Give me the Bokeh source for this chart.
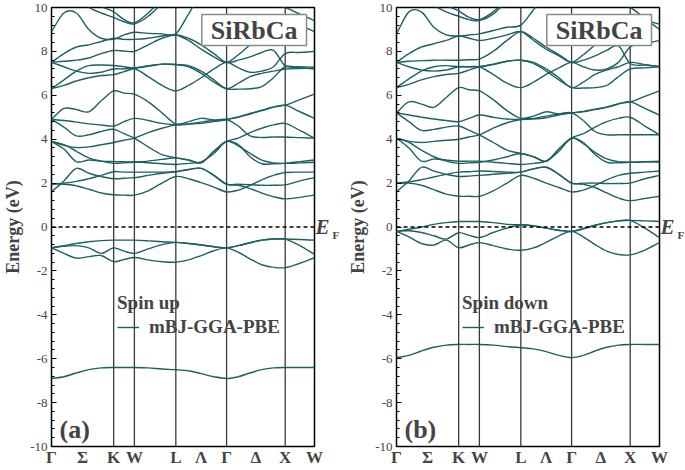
import numpy as np
from bokeh.plotting import figure
from bokeh.models import (ColumnDataSource, Range1d, FixedTicker, SingleIntervalTicker,
                          Label, Legend, LegendItem, Span, LinearAxis)
from bokeh.layouts import row
from bokeh.embed import file_html
from bokeh.resources import INLINE

# ---------------- k-path (FCC, units of 2*pi/a) ----------------
hs_labels = ["Γ", "K", "W", "L", "Γ", "X", "W"]
seg_lengths = [1.0607, 0.3536, 0.7071, 0.8660, 1.0, 0.5]
seg_fracs = [[0.2, 0.4, 0.6, 0.8], [0.5], [1 / 3, 2 / 3], [0.25, 0.5, 0.75],
             [0.2, 0.4, 0.6, 0.8], [0.5]]
mid_labels = ["Σ", "Λ", "Δ"]
mid_segments = [0, 3, 4]
y_ticks = [-10, -8, -6, -4, -2, 0, 2, 4, 6, 8, 10]

# ---------------- (a) spin up : energies (eV) at the k samples ----------------
up_v1 = [-6.9, -6.82, -6.65, -6.5, -6.42, -6.4, -6.4, -6.4, -6.42, -6.47, -6.5, -6.55, -6.68, -6.82, -6.9, -6.82, -6.65, -6.5, -6.42, -6.4, -6.4, -6.4]
up_v2 = [-0.95, -0.85, -0.75, -0.67, -0.62, -0.6, -0.6, -0.6, -0.63, -0.67, -0.7, -0.75, -0.82, -0.9, -0.95, -0.85, -0.72, -0.6, -0.55, -0.55, -0.57, -0.6]
up_v3 = [-0.95, -0.88, -0.85, -0.95, -1.2, -0.95, -1.1, -1.2, -1.0, -0.8, -0.7, -0.75, -0.82, -0.9, -0.95, -0.85, -0.72, -0.6, -0.55, -0.55, -0.85, -1.25]
up_v4 = [-0.95, -1.2, -1.42, -1.35, -1.3, -1.58, -1.48, -1.39, -1.5, -1.58, -1.6, -1.5, -1.3, -1.08, -0.95, -1.15, -1.45, -1.72, -1.84, -1.85, -1.65, -1.4]
up_c1 = [1.6, 2.1, 2.67, 2.45, 2.3, 2.2, 2.22, 2.25, 2.35, 2.45, 2.52, 2.62, 2.67, 2.35, 1.95, 1.95, 1.93, 1.9, 1.9, 1.92, 2.1, 2.25]
up_c2 = [1.95, 2.0, 2.08, 2.2, 2.35, 2.52, 2.5, 2.5, 2.5, 2.5, 2.52, 2.62, 2.67, 2.35, 1.95, 1.9, 1.75, 1.55, 1.38, 1.28, 1.35, 1.45]
up_c3 = [1.95, 1.95, 1.88, 1.72, 1.55, 1.47, 1.45, 1.45, 1.65, 2.0, 2.3, 2.2, 2.02, 1.82, 1.6, 1.68, 1.9, 2.15, 2.35, 2.48, 2.5, 2.5]
up_c4 = [3.9, 3.55, 2.98, 3.05, 3.0, 2.98, 2.97, 2.96, 2.93, 2.88, 2.85, 2.9, 2.97, 3.35, 3.9, 3.7, 3.35, 3.05, 2.92, 2.9, 2.92, 2.95]
up_c5 = [3.9, 3.75, 3.45, 3.15, 3.0, 2.9, 2.92, 2.95, 3.0, 3.08, 3.15, 3.05, 2.93, 3.45, 3.9, 3.75, 3.2, 2.88, 2.88, 2.9, 2.98, 3.05]
up_c6 = [4.9, 4.55, 4.15, 4.2, 4.35, 4.45, 4.25, 4.05, 3.65, 3.3, 3.15, 3.05, 2.93, 3.45, 3.9, 4.05, 4.3, 4.5, 4.65, 4.72, 4.4, 4.05]
up_c7 = [3.9, 3.72, 3.62, 3.65, 3.75, 3.85, 3.95, 4.05, 4.3, 4.5, 4.65, 4.7, 4.78, 4.85, 4.9, 4.6, 4.15, 4.08, 4.1, 4.1, 4.07, 4.05]
up_c8 = [4.9, 4.85, 4.78, 4.7, 4.65, 4.6, 4.8, 4.95, 4.85, 4.72, 4.65, 4.68, 4.72, 4.8, 4.9, 5.0, 5.15, 5.3, 5.45, 5.55, 5.25, 4.95]
up_c9 = [4.9, 5.4, 5.35, 5.25, 5.75, 6.2, 6.1, 6.05, 5.7, 5.2, 4.7, 4.8, 4.95, 4.88, 4.9, 5.02, 5.17, 5.32, 5.47, 5.55, 5.8, 6.05]
up_c10 = [6.3, 6.45, 6.65, 6.8, 6.9, 6.94, 7.08, 7.22, 7.32, 7.42, 7.4, 7.3, 7.0, 6.6, 6.3, 6.28, 6.3, 6.4, 6.8, 7.3, 7.25, 7.2]
up_c11 = [6.3, 6.7, 7.1, 7.35, 7.38, 7.36, 7.3, 7.25, 7.35, 7.42, 7.4, 7.35, 7.1, 6.7, 6.3, 6.55, 6.85, 7.0, 7.1, 7.2, 7.22, 7.25]
up_c12 = [7.5, 7.3, 7.1, 7.0, 7.05, 7.2, 7.2, 7.22, 6.85, 6.45, 6.2, 6.45, 6.8, 7.2, 7.5, 7.25, 7.05, 7.1, 7.3, 7.9, 7.95, 8.0]
up_c13 = [7.5, 7.55, 7.6, 7.7, 7.9, 8.04, 8.02, 8.0, 8.3, 8.6, 8.75, 8.6, 8.3, 7.9, 7.5, 7.6, 7.75, 7.95, 8.05, 7.35, 7.3, 7.28]
up_c14 = [7.5, 7.9, 8.2, 8.3, 8.45, 8.6, 8.55, 8.55, 8.6, 8.7, 8.75, 8.5, 8.1, 7.75, 7.5, 7.85, 8.3, 8.75, 9.2, 9.5, 9.2, 8.9]
up_c15 = [8.9, 9.75, 9.75, 9.0, 8.6, 8.55, 8.75, 8.87, 8.82, 8.8, 8.8, 9.7, 10.6, 10.8, 10.9, 10.8, 10.6, 10.3, 10.1, 10.0, 9.7, 9.4]
up_c16 = [11.0, 10.8, 10.4, 10.0, 9.75, 9.55, 9.35, 9.25, 9.6, 10.2, 10.8, 11.0, 11.0, 11.0, 11.0, 11.0, 11.0, 11.0, 11.0, 11.0, 11.0, 11.0]
up_c17 = [11.0, 11.0, 10.8, 10.4, 10.05, 9.8, 9.45, 9.3, 9.75, 10.4, 11.0, 11.0, 11.0, 11.0, 11.0, 11.0, 11.0, 11.0, 11.0, 11.0, 11.0, 11.0]

# ---------------- (b) spin down ----------------
dn_v1 = [-5.95, -5.85, -5.65, -5.48, -5.38, -5.35, -5.35, -5.35, -5.38, -5.45, -5.5, -5.55, -5.68, -5.85, -5.95, -5.85, -5.65, -5.48, -5.38, -5.35, -5.35, -5.35]
dn_v2 = [-0.2, -0.1, 0.0, 0.12, 0.2, 0.25, 0.25, 0.25, 0.2, 0.12, 0.1, 0.05, -0.05, -0.15, -0.2, -0.08, 0.08, 0.2, 0.28, 0.3, 0.28, 0.25]
dn_v3 = [-0.2, -0.17, -0.25, -0.4, -0.55, -0.26, -0.38, -0.48, -0.25, -0.05, 0.1, 0.05, -0.05, -0.15, -0.2, -0.08, 0.08, 0.2, 0.28, 0.3, -0.05, -0.48]
dn_v4 = [-0.2, -0.45, -0.75, -0.82, -0.6, -0.94, -0.82, -0.71, -0.85, -1.0, -1.06, -0.95, -0.7, -0.4, -0.2, -0.45, -0.8, -1.1, -1.25, -1.27, -1.05, -0.71]
dn_c1 = [1.6, 2.1, 2.72, 2.55, 2.4, 2.3, 2.32, 2.35, 2.4, 2.45, 2.5, 2.65, 2.72, 2.4, 2.0, 2.0, 2.0, 1.98, 1.98, 2.0, 2.2, 2.35]
dn_c2 = [2.0, 2.05, 2.15, 2.28, 2.4, 2.5, 2.52, 2.55, 2.53, 2.5, 2.5, 2.65, 2.72, 2.4, 2.0, 1.95, 1.8, 1.55, 1.32, 1.2, 1.3, 1.4]
dn_c3 = [2.0, 2.0, 1.9, 1.7, 1.5, 1.4, 1.4, 1.4, 1.65, 2.0, 2.35, 2.22, 2.0, 1.8, 1.6, 1.68, 1.9, 2.15, 2.35, 2.45, 2.5, 2.55]
dn_c4 = [4.05, 3.6, 3.0, 3.1, 3.05, 3.0, 3.0, 3.0, 2.95, 2.9, 2.85, 2.9, 3.0, 3.45, 4.05, 3.8, 3.4, 3.1, 2.97, 2.95, 2.97, 3.0]
dn_c5 = [4.05, 3.85, 3.5, 3.2, 3.0, 2.9, 2.92, 2.95, 3.05, 3.2, 3.35, 3.2, 3.0, 3.55, 4.05, 3.85, 3.3, 2.95, 2.93, 2.95, 2.97, 2.95]
dn_c6 = [5.2, 4.8, 4.4, 4.45, 4.55, 4.6, 4.4, 4.2, 3.85, 3.5, 3.35, 3.2, 3.0, 3.55, 4.05, 4.25, 4.55, 4.8, 4.95, 5.0, 4.6, 4.2]
dn_c7 = [4.05, 3.9, 3.85, 3.9, 3.95, 4.0, 4.1, 4.2, 4.5, 4.75, 4.9, 4.95, 5.05, 5.15, 5.2, 4.85, 4.35, 4.2, 4.2, 4.2, 4.2, 4.2]
dn_c8 = [5.2, 5.1, 5.0, 4.92, 4.85, 4.8, 4.95, 5.1, 5.0, 4.92, 4.9, 4.92, 4.98, 5.1, 5.2, 5.25, 5.35, 5.45, 5.6, 5.7, 5.4, 5.1]
dn_c9 = [5.2, 5.7, 5.6, 5.45, 5.9, 6.35, 6.25, 6.2, 5.8, 5.3, 4.95, 5.05, 5.25, 5.15, 5.2, 5.27, 5.37, 5.47, 5.62, 5.7, 5.95, 6.2]
dn_c10 = [6.35, 6.5, 6.7, 6.85, 6.95, 7.0, 7.15, 7.3, 7.4, 7.55, 7.6, 7.45, 7.1, 6.7, 6.35, 6.33, 6.35, 6.45, 6.85, 7.2, 7.25, 7.3]
dn_c11 = [6.35, 6.75, 7.1, 7.3, 7.35, 7.3, 7.3, 7.3, 7.42, 7.55, 7.6, 7.5, 7.2, 6.8, 6.35, 6.6, 6.95, 7.15, 7.3, 7.5, 7.4, 7.3]
dn_c12 = [7.5, 7.3, 7.15, 7.1, 7.15, 7.3, 7.3, 7.3, 6.95, 6.55, 6.35, 6.6, 6.95, 7.25, 7.5, 7.3, 7.15, 7.2, 7.5, 8.2, 8.35, 8.5]
dn_c13 = [7.5, 7.55, 7.58, 7.6, 7.6, 7.6, 7.62, 7.65, 8.0, 8.5, 8.9, 8.6, 8.2, 7.85, 7.5, 7.6, 7.8, 8.05, 8.25, 7.45, 7.38, 7.32]
dn_c14 = [7.5, 7.9, 8.2, 8.35, 8.5, 8.7, 8.6, 8.5, 8.6, 8.75, 8.9, 8.5, 8.1, 7.8, 7.5, 7.85, 8.3, 8.75, 9.2, 9.5, 9.4, 9.25]
dn_c15 = [8.8, 9.8, 9.8, 9.1, 8.75, 8.7, 8.75, 8.8, 8.95, 9.1, 9.2, 9.9, 10.6, 10.8, 10.9, 10.8, 10.6, 10.3, 10.1, 10.0, 9.5, 9.0]
dn_c16 = [11.0, 10.8, 10.5, 10.1, 9.8, 9.6, 9.45, 9.4, 9.7, 10.3, 10.9, 11.0, 11.0, 11.0, 11.0, 11.0, 11.0, 11.0, 11.0, 11.0, 11.0, 11.0]
dn_c17 = [11.0, 11.0, 10.9, 10.5, 10.1, 9.85, 9.55, 9.45, 9.8, 10.4, 11.0, 11.0, 11.0, 11.0, 11.0, 11.0, 11.0, 11.0, 11.0, 11.0, 11.0, 11.0]

up_bands = [up_v1, up_v2, up_v3, up_v4, up_c1, up_c2, up_c3, up_c4, up_c5, up_c6, up_c7,
            up_c8, up_c9, up_c10, up_c11, up_c12, up_c13, up_c14, up_c15, up_c16, up_c17]
dn_bands = [dn_v1, dn_v2, dn_v3, dn_v4, dn_c1, dn_c2, dn_c3, dn_c4, dn_c5, dn_c6, dn_c7,
            dn_c8, dn_c9, dn_c10, dn_c11, dn_c12, dn_c13, dn_c14, dn_c15, dn_c16, dn_c17]

# ---------------- build k coordinates ----------------
hs_k = [0.0]
kgrid = [0.0]
for L, fr in zip(seg_lengths, seg_fracs):
    start = hs_k[-1]
    for f in fr:
        kgrid.append(start + f * L)
    hs_k.append(start + L)
    kgrid.append(start + L)
hs_k = [round(v, 6) for v in hs_k]
kgrid = np.array(kgrid)
k_total = hs_k[-1]
mid_k = [round((hs_k[s] + hs_k[s + 1]) / 2, 6) for s in mid_segments]

BAND_COLOR = "#1c5f5f"
FONT = "Liberation Serif"


def smooth_segments(bands):
    """Cubic (Hermite) pieces through the sampled energies, as Bezier glyph data."""
    cols = {c: [] for c in ("x0", "y0", "x1", "y1", "cx0", "cy0", "cx1", "cy1")}
    k = kgrid
    h = np.diff(k)
    for e in bands:
        e = np.asarray(e, float)
        m = np.empty_like(e)
        m[1:-1] = (e[2:] - e[:-2]) / (k[2:] - k[:-2])
        m[0] = (e[1] - e[0]) / (k[1] - k[0])
        m[-1] = (e[-1] - e[-2]) / (k[-1] - k[-2])
        cols["x0"] += list(k[:-1]); cols["y0"] += list(e[:-1])
        cols["x1"] += list(k[1:]); cols["y1"] += list(e[1:])
        cols["cx0"] += list(k[:-1] + h / 3); cols["cy0"] += list(e[:-1] + m[:-1] * h / 3)
        cols["cx1"] += list(k[1:] - h / 3); cols["cy1"] += list(e[1:] - m[1:] * h / 3)
    return ColumnDataSource(cols)


def ef_axis(text, tick, size, style, standoff):
    ax = LinearAxis(ticker=FixedTicker(ticks=[tick]), major_label_overrides={tick: text},
                    major_label_text_font=FONT, major_label_text_font_style=style,
                    major_label_text_font_size=size, major_label_standoff=standoff,
                    major_tick_line_color=None, major_tick_in=0, major_tick_out=0,
                    minor_tick_line_color=None, minor_tick_in=0, minor_tick_out=0,
                    axis_line_color=None)
    return ax


def make_panel(bands, left, right, tag, spin):
    p = figure(frame_width=263, height=469, x_range=Range1d(0, k_total), y_range=Range1d(-10, 10),
               output_backend="svg", toolbar_location=None,
               min_border_left=left, min_border_right=right, min_border_top=7, min_border_bottom=0)
    p.xgrid.visible = False
    p.ygrid.visible = False
    p.outline_line_color = "black"
    p.outline_line_width = 1.5
    p.background_fill_color = "white"
    p.border_fill_color = "white"

    for kk in hs_k[1:-1]:
        p.add_layout(Span(location=kk, dimension="height", line_color="#3a3a3a",
                          line_width=1.3, level="underlay"))
    p.add_layout(Span(location=0, dimension="width", line_color="black",
                      line_width=1.3, line_dash="4 3"))

    src = smooth_segments(bands)
    r = p.bezier(x0="x0", y0="y0", x1="x1", y1="y1", cx0="cx0", cy0="cy0",
                 cx1="cx1", cy1="cy1", source=src, line_color=BAND_COLOR, line_width=1.4)

    # y axis
    ya = p.yaxis[0]
    ya.ticker = SingleIntervalTicker(interval=2, num_minor_ticks=5)
    ya.major_label_overrides = {t: str(t) for t in y_ticks}
    ya.axis_label = "Energy (eV)"
    ya.axis_label_text_font = FONT
    ya.axis_label_text_font_style = "bold"
    ya.axis_label_text_font_size = "18px"
    ya.axis_label_standoff = 4
    ya.major_label_text_font = FONT
    ya.major_label_text_font_size = "13px"
    ya.major_label_standoff = 4
    ya.major_tick_in = 5
    ya.major_tick_out = 0
    ya.minor_tick_in = 3
    ya.minor_tick_out = 0
    ya.axis_line_color = None
    ya.major_tick_line_color = "black"
    ya.minor_tick_line_color = "black"

    # x axis
    xa = p.xaxis[0]
    ticks = hs_k + mid_k
    xa.ticker = FixedTicker(ticks=ticks)
    ov = {kk: lab for kk, lab in zip(hs_k, hs_labels)}
    ov.update({kk: lab for kk, lab in zip(mid_k, mid_labels)})
    xa.major_label_overrides = ov
    xa.major_label_text_font = FONT
    xa.major_label_text_font_style = "bold"
    xa.major_label_text_font_size = "17px"
    xa.major_label_standoff = 1
    xa.major_tick_line_color = None
    xa.minor_tick_line_color = None
    xa.major_tick_in = 0
    xa.major_tick_out = 0
    xa.minor_tick_in = 0
    xa.minor_tick_out = 0
    xa.axis_line_color = None

    # Fermi level label E_F (on the right side, outside the frame)
    p.add_layout(ef_axis("E", 0, "21px", "bold italic", 1), "right")
    p.add_layout(ef_axis("F", -0.35, "11px", "bold", 0), "right")

    # compound name box
    p.add_layout(Label(x=k_total, y=10, x_offset=-8, y_offset=-7, text="SiRbCa", text_font=FONT,
                       text_font_style="bold", text_font_size="26px", text_align="right",
                       text_baseline="top", border_line_color="#8a8a8a", border_line_width=1.5,
                       background_fill_color="white",
                       padding=dict(top=1, right=9, bottom=1, left=9)))

    # panel tag
    p.add_layout(Label(x=0, y=-10, x_offset=8, y_offset=3, text=tag, text_font=FONT,
                       text_font_style="bold", text_font_size="26px", text_align="left",
                       text_baseline="bottom"))

    leg = Legend(items=[LegendItem(label="mBJ-GGA-PBE", renderers=[r])], title=spin,
                 location=(66, 108), border_line_color=None, background_fill_alpha=0,
                 title_text_font=FONT, title_text_font_style="bold", title_text_font_size="19px",
                 label_text_font=FONT, label_text_font_style="bold", label_text_font_size="19px",
                 glyph_width=22, glyph_height=20, label_standoff=10, padding=0, margin=0,
                 spacing=0, title_standoff=2)
    p.add_layout(leg)
    return p


pa = make_panel(up_bands, 49, 25, "(a)", "Spin up")
pb = make_panel(dn_bands, 54, 28, "(b)", "Spin down")
layout = row(pa, pb)

open("out.html", "w").write(file_html(layout, INLINE))
